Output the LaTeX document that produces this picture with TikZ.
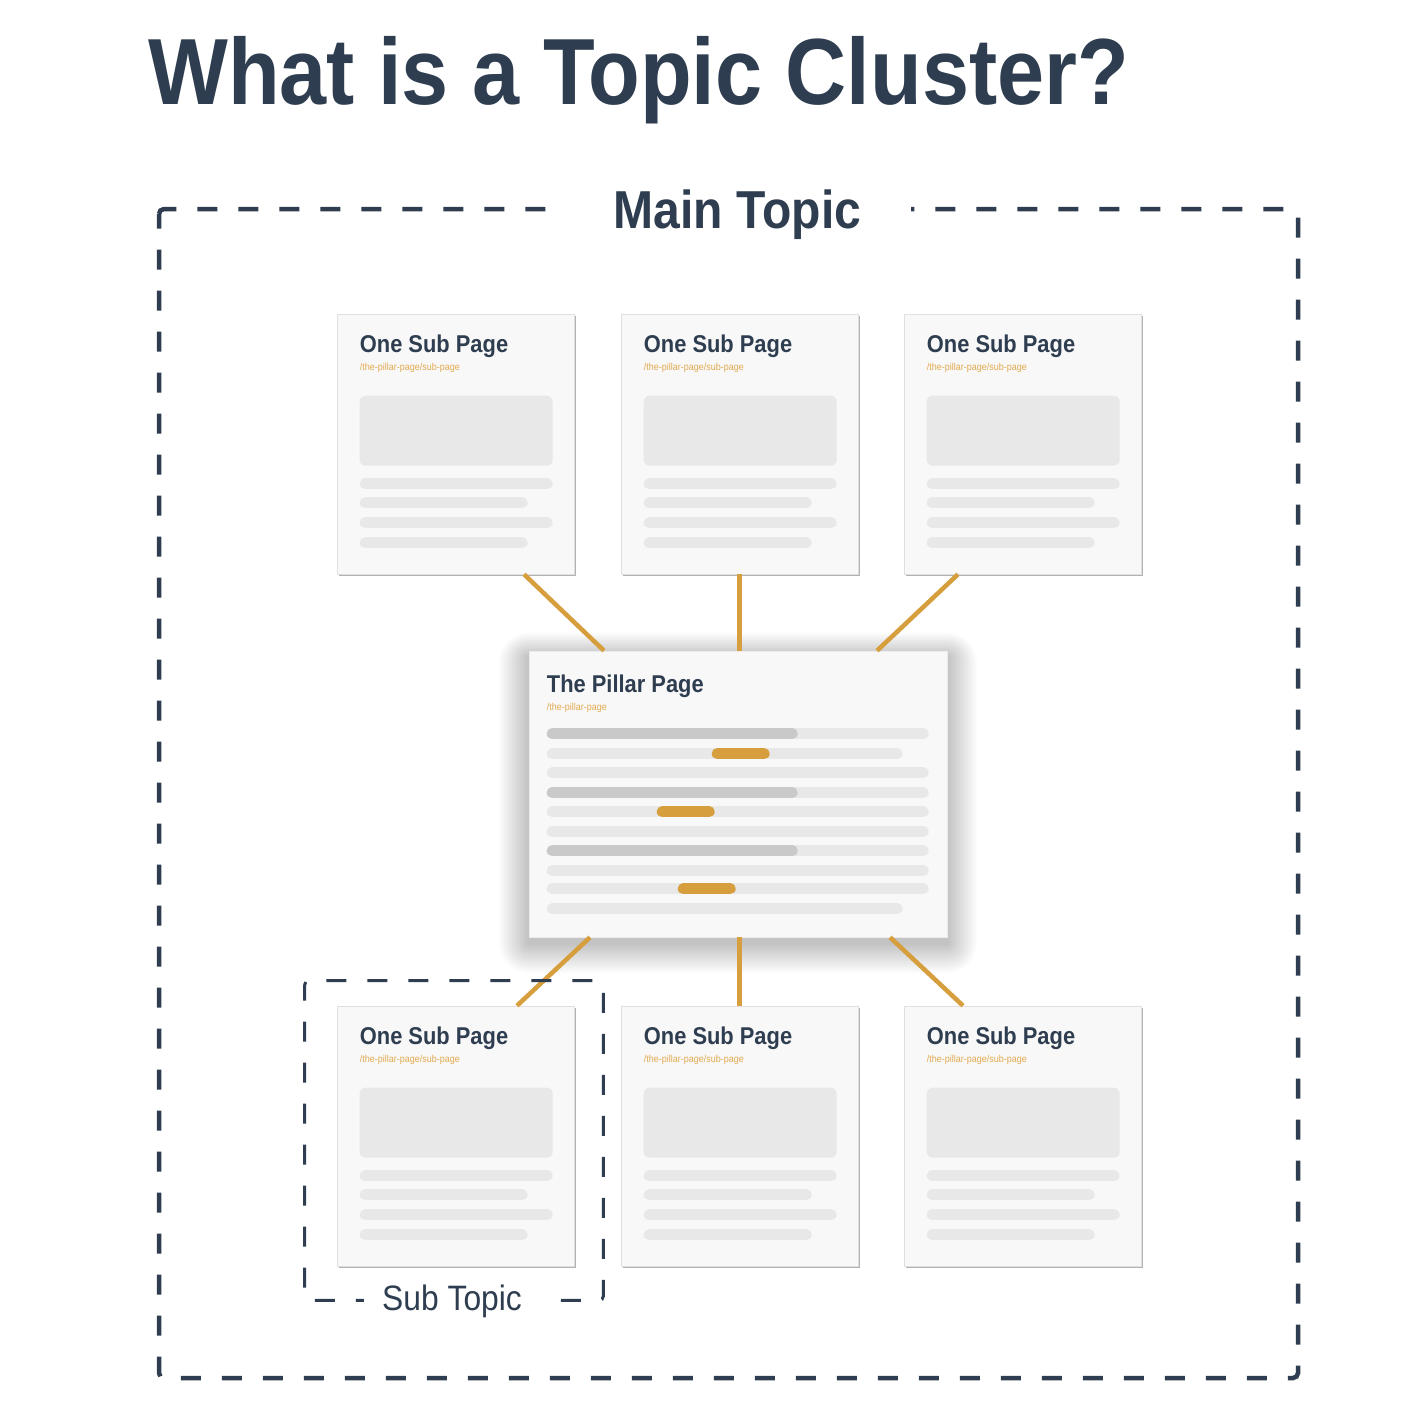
\documentclass[tikz,border=0pt]{standalone}
\usepackage{fontspec}
\setmainfont[FakeStretch=0.9]{Liberation Sans}
\usetikzlibrary{shadows,backgrounds}

\definecolor{slate}{HTML}{2E3D4F}
\definecolor{gold}{HTML}{D69E3C}
\definecolor{urlgold}{HTML}{E2AA50}
\definecolor{paper}{HTML}{F8F8F8}
\definecolor{barlight}{HTML}{E8E8E8}
\definecolor{bardark}{HTML}{C9C9C9}

\begin{document}
\begin{tikzpicture}[x=1pt,y=-1pt,
  card/.style={fill=paper,draw=black!12,line width=.6pt,minimum width=237pt,minimum height=260pt,inner sep=0pt,
    drop shadow={shadow xshift=1.5pt,shadow yshift=-2pt,opacity=.3,fill=black}},
  pillar/.style={fill=paper,draw=black!8,line width=.6pt,minimum width=418pt,minimum height=286pt,inner sep=0pt},
  ptitle/.style={anchor=base west,inner sep=0pt,text=slate,font=\fontsize{24.3}{28}\selectfont\bfseries},
  url/.style={anchor=base west,inner sep=0pt,text=urlgold,font=\fontsize{10}{12}\selectfont},
  bar/.style={line width=11pt,line cap=round,barlight},
  link/.style={gold,line width=4.5pt},
  frame/.style={slate,line width=4.5pt,dash pattern=on 20pt off 21pt,rounded corners=5pt}]
  \node[anchor=base west,inner sep=0pt,text=slate,font=\fontsize{94}{100}\selectfont\bfseries] (title) at (148,105) {What is a Topic Cluster?};

  % main topic frame
  \draw[frame] (159,219) -- (159,209) -- (1298,209) -- (1298,1378) -- (159,1378) -- cycle;
  \node[anchor=base,fill=white,inner xsep=50pt,inner ysep=6pt,text=slate,font=\fontsize{53.4}{60}\selectfont\bfseries] (main) at (737.5,228) {Main Topic};

  % sub pages
  \foreach \n/\x/\y in {s1/455.5/444,s2/739.5/444,s3/1022.5/444,s4/455.5/1136,s5/739.5/1136,s6/1022.5/1136} {
    \node[card] (\n) at (\x,\y) {};
    \node[ptitle] (\n-t) at ([shift={(23,39)}]\n.north west) {One Sub Page};
    \node[url] (\n-u) at ([shift={(23,57)}]\n.north west) {/the-pillar-page/sub-page};
    \fill[barlight,rounded corners=6pt] ([shift={(23,82)}]\n.north west) rectangle ([shift={(216,152)}]\n.north west);
    \foreach \dy/\len in {170/216,189/191,209/216,229/191}
      \draw[bar] ([shift={(28.5,\dy)}]\n.north west) -- ([shift={(\len-5.5,\dy)}]\n.north west);
  }

  % pillar page
  \node[pillar] (pil) at (738,794) {};
  \node[ptitle] (pil-t) at ([shift={(18,42)}]pil.north west) {The Pillar Page};
  \node[url] (pil-u) at ([shift={(18,60)}]pil.north west) {/the-pillar-page};
  \foreach \dy/\len in {83/400,103/374,122/400,142/400,161/400,181/400,200/400,220/400,238/400,258/374}
    \draw[bar] ([shift={(23.5,\dy)}]pil.north west) -- ([shift={(\len-5.5,\dy)}]pil.north west);
  \foreach \dy in {83,142,200}
    \draw[bar,bardark] ([shift={(23.5,\dy)}]pil.north west) -- ([shift={(263.5,\dy)}]pil.north west);
  \foreach \dy/\a/\b in {103/183/241,161/128/186,238/149/207}
    \draw[bar,gold] ([shift={(\a+5.5,\dy)}]pil.north west) -- ([shift={(\b-5.5,\dy)}]pil.north west);

  \begin{scope}[on background layer]
    \fill[white] (0,0) rectangle (1408,1426);
    % soft shadow of the pillar page
    \foreach \i in {1,...,30}
      \fill[black,opacity=.009,rounded corners=\i pt] ([shift={(-\i,-0.8*\i+6)}]pil.north west) rectangle ([shift={(\i,\i+6)}]pil.south east);
  \end{scope}

  % links
  \draw[link] ([xshift=68.5pt]s1.south) -- ([xshift=-134pt]pil.north);
  \draw[link] (s2.south) -- (s2.south |- pil.north);
  \draw[link] ([xshift=-64.5pt]s3.south) -- ([xshift=139pt]pil.north);
  \draw[link] ([xshift=-148pt]pil.south) -- ([xshift=61.5pt]s4.north);
  \draw[link] (s5.north) -- (s5.north |- pil.south);
  \draw[link] ([xshift=152pt]pil.south) -- ([xshift=-59.5pt]s6.north);

  % sub topic frame
  \draw[frame,line width=3pt,rounded corners=4pt,dash phase=4pt] ([shift={(-32,-25)}]s4.north west) rectangle ([shift={(29,34)}]s4.south east);
  \node[anchor=base,fill=white,inner xsep=18pt,inner ysep=4pt,text=slate,font=\fontsize{35.3}{40}\selectfont] (sub) at (452,1310) {Sub Topic};
\end{tikzpicture}
\end{document}
